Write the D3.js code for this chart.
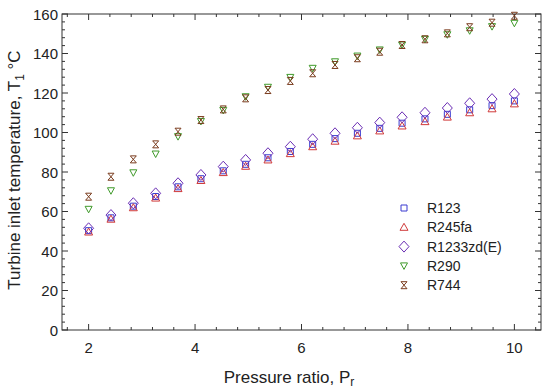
<!DOCTYPE html>
<html>
<head>
<meta charset="utf-8">
<script src="https://cdn.jsdelivr.net/npm/d3@7"></script>
<style>
  body { margin: 0; background: #fff; }
  text { font-family: "Liberation Sans", Arial, sans-serif; fill: #222; }
</style>
</head>
<body>
<div id="chart"></div>
<script>
// pressure ratio values (20 points from 2 to 10)
const pressureRatio = [2, 2.42, 2.84, 3.26, 3.68, 4.11, 4.53, 4.95, 5.37, 5.79,
  6.21, 6.63, 7.05, 7.47, 7.89, 8.32, 8.74, 9.16, 9.58, 10];

const r123 = [50.3, 56.8, 62.7, 67.6, 72.5, 76.6, 80.6, 83.9, 87.2, 90.4,
  94.0, 96.9, 99.6, 102.1, 104.7, 106.9, 109.2, 111.5, 113.6, 116.0];
const r245fa = [49.6, 56.1, 61.9, 66.8, 71.6, 75.7, 79.7, 82.9, 86.1, 89.3,
  92.8, 95.6, 98.3, 100.8, 103.3, 105.5, 107.8, 110.0, 112.0, 114.5];
const r1233zd = [51.5, 58.2, 64.2, 69.2, 74.3, 78.5, 82.7, 86.1, 89.5, 92.8,
  96.6, 99.6, 102.4, 105.0, 107.7, 110.0, 112.4, 114.8, 116.9, 119.5];
const r290 = [61.1, 70.5, 79.6, 89.1, 97.9, 105.6, 111.2, 118.1, 122.9, 127.9,
  132.5, 135.8, 138.7, 141.8, 144.3, 147.2, 149.5, 151.5, 153.6, 155.3];
const r744 = [67.5, 77.6, 86.4, 94.0, 100.4, 106.3, 111.7, 117.3, 121.5, 126.1,
  130.0, 134.2, 137.6, 140.9, 144.3, 147.2, 150.2, 153.3, 155.6, 159.1];

const seriesNames = ["R123", "R245fa", "R1233zd(E)", "R290", "R744"];
const xTicks = [2, 4, 6, 8, 10];
const yTicks = [0, 20, 40, 60, 80, 100, 120, 140, 160];

const series = [
  { name: seriesNames[0], values: r123, color: "#3b3bd0", shape: "square" },
  { name: seriesNames[1], values: r245fa, color: "#d03a3a", shape: "triUp" },
  { name: seriesNames[2], values: r1233zd, color: "#6a2db4", shape: "diamond" },
  { name: seriesNames[3], values: r290, color: "#3f9a2a", shape: "triDown" },
  { name: seriesNames[4], values: r744, color: "#7a3c1e", shape: "hourglass" }
];

const shapes = {
  square: "M-3,-3H3V3H-3Z",
  triUp: "M0,-4L4,3H-4Z",
  diamond: "M0,-5.5L5,0L0,5.5L-5,0Z",
  triDown: "M-3.5,-3H3.5L0,3.5Z",
  hourglass: "M-3,-3.5H3L-3,3.5H3Z"
};

const width = 550, height = 388;
const plot = { left: 62, right: 541, top: 14, bottom: 330 };

const svg = d3.select("#chart").append("svg")
  .attr("width", width)
  .attr("height", height);

const x = d3.scaleLinear().domain([1.5, 10.5]).range([plot.left, plot.right]);
const y = d3.scaleLinear().domain([0, 160]).range([plot.bottom, plot.top]);

const xMinor = d3.range(1.6, 10.5, 0.4).map(v => +v.toFixed(1));
const yMinor = d3.range(0, 161, 4);

// frame
svg.append("rect")
  .attr("x", plot.left).attr("y", plot.top)
  .attr("width", plot.right - plot.left).attr("height", plot.bottom - plot.top)
  .attr("fill", "none").attr("stroke", "#333").attr("stroke-width", 1);

const ticks = svg.append("g").attr("stroke", "#333").attr("stroke-width", 1);
const isMajorX = v => xTicks.some(t => Math.abs(t - v) < 1e-6);
xMinor.forEach(v => {
  const len = isMajorX(v) ? 6 : 3;
  ticks.append("line").attr("x1", x(v)).attr("x2", x(v)).attr("y1", plot.bottom).attr("y2", plot.bottom - len);
  ticks.append("line").attr("x1", x(v)).attr("x2", x(v)).attr("y1", plot.top).attr("y2", plot.top + len);
});
yMinor.forEach(v => {
  const len = v % 20 === 0 ? 6 : 3;
  ticks.append("line").attr("y1", y(v)).attr("y2", y(v)).attr("x1", plot.left).attr("x2", plot.left + len);
  ticks.append("line").attr("y1", y(v)).attr("y2", y(v)).attr("x1", plot.right).attr("x2", plot.right - len);
});

// tick labels
svg.append("g").selectAll("text").data(xTicks).enter().append("text")
  .attr("x", d => x(d)).attr("y", 353)
  .attr("text-anchor", "middle").attr("font-size", 15)
  .text(d => d);
svg.append("g").selectAll("text").data(yTicks).enter().append("text")
  .attr("x", 58).attr("y", d => y(d) + 5.5)
  .attr("text-anchor", "end").attr("font-size", 15)
  .text(d => d);

// axis titles
const xt = svg.append("text")
  .attr("x", 289).attr("y", 383)
  .attr("text-anchor", "middle").attr("font-size", 17);
xt.append("tspan").text("Pressure ratio, P");
xt.append("tspan").attr("font-size", 12).attr("dy", 3).text("r");

const yt = svg.append("text")
  .attr("transform", "translate(20,170) rotate(-90)")
  .attr("text-anchor", "middle").attr("font-size", 17);
yt.append("tspan").text("Turbine inlet temperature, T");
yt.append("tspan").attr("font-size", 12).attr("dy", 4).text("1");
yt.append("tspan").attr("dy", -4).text(" °C");

// markers
series.forEach(s => {
  svg.append("g").selectAll("path").data(s.values).enter().append("path")
    .attr("d", shapes[s.shape])
    .attr("transform", (d, i) => `translate(${x(pressureRatio[i])},${y(d)})`)
    .attr("fill", "none").attr("stroke", s.color).attr("stroke-width", 1);
});

// legend
const legend = svg.append("g");
series.forEach((s, i) => {
  const ly = 208 + i * 19.3;
  legend.append("path").attr("d", shapes[s.shape])
    .attr("transform", `translate(404,${ly})`)
    .attr("fill", "none").attr("stroke", s.color).attr("stroke-width", 1);
  legend.append("text").attr("x", 427).attr("y", ly + 5)
    .attr("font-size", 14).text(s.name);
});
</script>
</body>
</html>
